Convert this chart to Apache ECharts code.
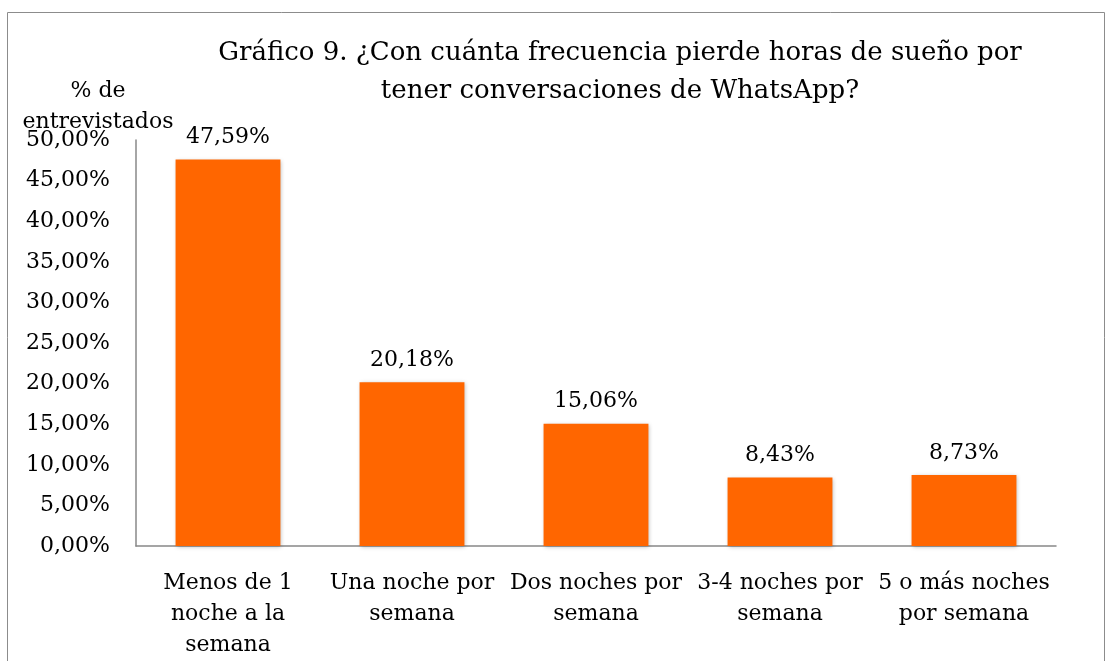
<!DOCTYPE html>
<html>
<head>
<meta charset="utf-8">
<script src="https://cdn.jsdelivr.net/npm/echarts@6/dist/echarts.min.js"></script>
<style>
  html, body { margin: 0; padding: 0; background: #fff; }
  #chart { width: 1117px; height: 661px; }
</style>
</head>
<body>
<div id="chart"></div>
<script>
const categories = [
  "Menos de 1\nnoche a la\nsemana",
  "Una noche por\nsemana",
  "Dos noches por\nsemana",
  "3-4 noches por\nsemana",
  "5 o más noches\npor semana"
];
const values = [47.59, 20.18, 15.06, 8.43, 8.73];
const titleText = "Gráfico 9. ¿Con cuánta frecuencia pierde horas de sueño por\ntener conversaciones de WhatsApp?";
const yAxisTitle = "% de\nentrevistados";

const fontFamily = "'DejaVu Serif', serif";
const pct = v => v.toFixed(2).replace(".", ",") + "%";

const chart = echarts.init(document.getElementById("chart"));
chart.setOption({
  animation: false,
  textStyle: { fontFamily: fontFamily, color: "#000" },
  graphic: [
    {
      type: "rect",
      shape: { x: 7.5, y: 12.5, width: 1097, height: 700 },
      style: { fill: "none", stroke: "#8c8c8c", lineWidth: 1 },
      silent: true
    }
  ],
  title: [
    {
      text: titleText,
      left: 615,
      top: 29,
      textAlign: "center",
      textStyle: { fontFamily: fontFamily, fontSize: 26, fontWeight: "normal", color: "#000", lineHeight: 38 }
    },
    {
      text: yAxisTitle,
      left: 93,
      top: 71,
      textAlign: "center",
      textStyle: { fontFamily: fontFamily, fontSize: 22, fontWeight: "normal", color: "#000", lineHeight: 31 }
    }
  ],
  grid: { left: 136, right: 61, top: 140, bottom: 114 },
  xAxis: {
    type: "category",
    data: categories,
    axisLine: { lineStyle: { color: "#888", width: 1.5 } },
    axisTick: { show: false },
    axisLabel: {
      interval: 0,
      margin: 22,
      fontFamily: fontFamily,
      fontSize: 22,
      lineHeight: 31,
      color: "#000"
    }
  },
  yAxis: {
    type: "value",
    min: 0,
    max: 50,
    interval: 5,
    axisLine: { show: true, lineStyle: { color: "#888", width: 1.5 } },
    axisTick: { show: false },
    splitLine: { show: false },
    axisLabel: {
      margin: 26,
      fontFamily: fontFamily,
      fontSize: 22,
      color: "#000",
      formatter: v => pct(v)
    }
  },
  series: [
    {
      type: "bar",
      data: values,
      barWidth: "57%",
      itemStyle: {
        color: "#ff6600",
        shadowColor: "rgba(0,0,0,0.25)",
        shadowBlur: 4,
        shadowOffsetX: 1,
        shadowOffsetY: 1
      },
      label: {
        show: true,
        position: "top",
        distance: 11,
        fontFamily: fontFamily,
        fontSize: 22,
        color: "#000",
        formatter: p => pct(p.value)
      }
    }
  ]
});
</script>
</body>
</html>
